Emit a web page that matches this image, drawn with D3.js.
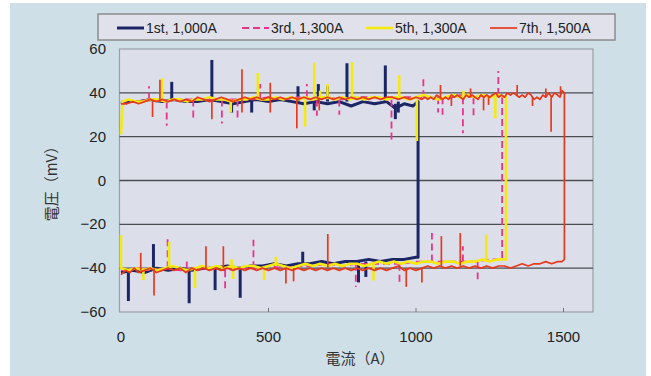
<!DOCTYPE html>
<html>
<head>
<meta charset="utf-8">
<script src="https://cdn.jsdelivr.net/npm/d3@7"></script>
<style>
  body { margin: 0; background: #fff; }
  svg { display: block; font-family: "Liberation Sans", Arial, sans-serif; }
</style>
</head>
<body>
<div id="chart"></div>
<script>
// x ticks / y ticks
const xTicks = [0, 500, 1000, 1500];
const yTicks = [-60, -40, -20, 0, 20, 40, 60];
const yGrid = [-40, -20, 0, 20, 40];

// series names
const names = ["1st, 1,000A", "3rd, 1,300A", "5th, 1,300A", "7th,  1,500A"];

// baseline traces [current A, voltage mV], path order: lower branch, jump, upper branch back
const navyTrace = [[0,-42],[40,-41],[80,-42],[120,-40],[160,-41],[200,-40],[240,-41],[280,-40],[320,-40],[360,-39],[400,-40],[440,-39],[480,-39],[520,-38],[560,-39],[600,-38],[640,-38],[680,-37],[720,-38],[760,-37],[800,-37],[840,-36],[880,-37],[920,-36],[960,-36],[1000,-35],[1007,-35],
  [1007,36],[990,34],[960,35],[930,33],[900,36],[860,35],[820,36],[780,34],[740,36],[700,35],[660,36],[620,35],[580,36],[540,37],[500,36],[460,37],[420,36],[380,35],[340,36],[300,37],[260,36],[220,36],[180,37],[140,36],[100,37],[60,36],[20,36],[0,35]];
const pinkTrace = [[0,-41],[50,-40],[100,-41],[150,-40],[200,-41],[250,-40],[300,-40],[350,-41],[400,-40],[450,-40],[500,-39],[550,-40],[600,-39],[650,-39],[700,-38],[750,-39],[800,-38],[850,-38],[900,-38],[950,-38],[1000,-37],[1050,-37],[1100,-37],[1150,-37],[1200,-37],[1250,-36],[1292,-36],
  [1292,38],[1250,39],[1200,38],[1150,39],[1100,37],[1050,38],[1000,38],[950,38],[900,37],[850,38],[800,38],[750,37],[700,38],[650,37],[600,38],[550,37],[500,38],[450,37],[400,37],[350,37],[300,37],[250,37],[200,37],[150,36],[100,37],[50,36],[0,36]];
const yellowTrace = [[0,-25],[0,-40],[25,-41],[50,-40],[75,-41],[100,-40],[125,-41],[150,-40],[175,-39],[200,-40],[225,-41],[250,-40],[275,-39],[300,-40],[325,-39],[350,-40],[375,-39],[400,-40],[425,-39],[450,-39],[475,-40],[500,-39],[525,-38],[550,-39],[575,-40],[600,-39],[625,-38],[650,-39],[675,-38],[700,-39],[725,-38],[750,-39],[775,-38],[800,-38],[825,-39],[850,-38],[875,-37],[900,-38],[925,-37],[950,-38],[975,-37],[1000,-38],[1025,-37],[1050,-37],[1075,-38],[1100,-37],[1125,-37],[1150,-38],[1175,-37],[1200,-37],[1225,-36],[1250,-37],[1275,-36],[1305,-36],
  [1305,38],[1280,39],[1250,38],[1225,39],[1200,38],[1175,39],[1150,38],[1125,39],[1100,38],[1075,37],[1050,38],[1025,39],[1000,38],[975,37],[950,38],[925,38],[900,37],[875,38],[850,38],[825,37],[800,38],[775,37],[750,38],[725,37],[700,38],[675,38],[650,37],[625,38],[600,37],[575,38],[550,37],[525,38],[500,37],[475,37],[450,38],[425,37],[400,37],[375,36],[350,37],[325,37],[300,38],[275,37],[250,37],[225,36],[200,37],[175,37],[150,36],[125,37],[100,37],[75,36],[50,36],[25,37],[5,36],[0,21]];
const redTrace = [[0,-43],[15,-41],[30,-42],[45,-40],[60,-42],[80,-41],[100,-40],[120,-42],[140,-41],[160,-40],[180,-41],[200,-40],[220,-42],[240,-40],[260,-41],[280,-40],[300,-41],[320,-40],[340,-41],[360,-40],[380,-41],[400,-40],[420,-41],[440,-40],[460,-41],[480,-40],[500,-41],[520,-40],[540,-41],[560,-40],[580,-41],[600,-40],[620,-41],[640,-40],[660,-41],[680,-40],[700,-41],[720,-40],[740,-41],[760,-40],[780,-41],[800,-40],[820,-41],[840,-40],[860,-41],[880,-40],[900,-41],[920,-40],[940,-39],[960,-41],[980,-40],[1000,-41],[1020,-40],[1040,-39],[1060,-40],[1080,-39],[1100,-40],[1120,-39],[1140,-40],[1160,-39],[1180,-40],[1200,-39],[1220,-40],[1240,-39],[1260,-40],[1280,-39],[1300,-39],[1320,-40],[1340,-39],[1360,-38],[1380,-39],[1400,-38],[1420,-38],[1440,-37],[1460,-38],[1480,-37],[1495,-37],[1503,-36],
  [1503,40],[1495,41],[1488,38],[1480,39],[1470,40],[1460,38],[1450,40],[1440,38],[1430,39],[1420,37],[1410,38],[1400,37],[1390,39],[1380,40],[1370,38],[1360,39],[1350,38],[1340,39],[1330,40],[1320,39],[1310,40],[1300,38],[1290,39],[1280,38],[1270,40],[1260,39],[1250,38],[1240,39],[1230,38],[1220,39],[1210,37],[1200,38],[1190,39],[1180,38],[1170,39],[1160,37],[1150,38],[1140,39],[1130,38],[1120,39],[1110,37],[1100,38],[1090,37],[1080,38],[1070,39],[1060,37],[1050,38],[1040,37],[1030,38],[1020,37],[1000,38],[980,37],[960,38],[940,37],[920,38],[900,38],[880,37],[860,38],[840,37],[820,38],[800,37],[780,38],[760,37],[740,38],[720,37],[700,38],[680,37],[660,38],[640,37],[620,38],[600,37],[580,38],[560,37],[540,38],[520,37],[500,38],[480,37],[460,38],[440,37],[420,38],[400,37],[380,36],[360,37],[340,38],[320,37],[300,36],[280,37],[260,38],[240,36],[220,37],[200,36],[180,37],[160,36],[140,37],[120,36],[100,37],[80,36],[60,35],[40,36],[20,35],[0,35]];

// spikes [current A, base mV, tip mV]
const navySpikes = [[172,37,45],[308,37,55],[375,36,31],[443,37,31],[600,36,43],[655,36,32],[669,36,44],[700,36,43],[766,36,53.5],[896,36,52.5],[930,35,28],[940,36,31],
  [25,-41,-55],[110,-41,-29],[231,-40,-56],[319,-40,-50],[404,-40,-53.5],[616,-38,-32.5],[805,-37,-46.5],[830,-37,-44]];
const pinkSpikes = [[95,37,43],[155,36,25],[245,37,28],[342,37,26],[395,37,27],[472,37,44],[630,38,44],[664,37,29.5],[740,37,30],[917,37,18],[1025,38,46.7],[1075,38,31],[1090,38,30],[1159,38,21.6],[1195,38,28],[1279,39,50],
  [158,-40,-25],[223,-40,-37],[353,-41,-50],[449,-40,-27],[796,-38,-48.6],[944,-38,-48],[1054,-37,-24],[1159,-37,-30],[1209,-37,-45]];
const yellowSpikes = [[139,37,46.7],[372,37,31],[464,37,49],[624,37,24.6],[655,37,53.8],[675,37,41],[700,37,44],[783,37,54],[943,37,48],[1003,37,18],[1161,38,41],[1269,38,28.4],
  [76,-40,-45.4],[163,-40,-28],[251,-40,-49],[375,-40,-36],[380,-40,-45],[485,-39,-45.4],[525,-39,-34.8],[856,-38,-45.6],[1238,-37,-24.7]];
const redSpikes = [[107,36,29],[132,36,46],[308,37,28],[410,37,50.8],[410,37,31],[506,37,44.6],[506,37,31],[596,37,23.8],[672,37,32],[1083,37,43.6],[1229,38,32],[1246,38,34.5],[1343,39,43.6],[1458,38,22.3],[1490,39,43],
  [1120,38,34],[1185,38,42],[1395,38,34],[1440,38,42],
  [67,-41,-33],[112,-40,-52.5],[288,-40,-30],[347,-40,-30],[559,-40,-47],[585,-40,-46],[701,-40,-24.4],[967,-40,-48.5],[1020,-40,-46.5],[1086,-39,-25.4],[1150,-39,-24]];

const W = 651, H = 376;
const svg = d3.select("#chart").append("svg").attr("width", W).attr("height", H);

svg.append("rect").attr("x", 10).attr("y", 3).attr("width", 636).attr("height", H - 3).attr("fill", "#cfdfe8");

const x = d3.scaleLinear().domain([0, 1600]).range([121, 593]);
const y = d3.scaleLinear().domain([-60, 60]).range([312, 49]);

// plot area
svg.append("rect")
  .attr("x", x(0) - 1.5).attr("y", y(60))
  .attr("width", x(1600) - x(0) + 1.5).attr("height", y(-60) - y(60))
  .attr("fill", "#dcdfea").attr("stroke", "#9a9ea6").attr("stroke-width", 1.2);

svg.selectAll(".grid").data(yGrid).enter().append("line")
  .attr("x1", x(0) - 1.5).attr("x2", x(1600))
  .attr("y1", d => y(d)).attr("y2", d => y(d))
  .attr("stroke", "#4a4d52").attr("stroke-width", 1.3);

// x ticks (inward)
svg.selectAll(".xt").data(xTicks.slice(1)).enter().append("line")
  .attr("x1", d => x(d)).attr("x2", d => x(d))
  .attr("y1", y(-60)).attr("y2", y(-60) - 4)
  .attr("stroke", "#777").attr("stroke-width", 1);

svg.selectAll(".xl").data(xTicks).enter().append("text")
  .attr("x", d => x(d)).attr("y", 342)
  .attr("text-anchor", "middle").attr("font-size", 15).attr("fill", "#222")
  .text(d => d);

svg.selectAll(".yl").data(yTicks).enter().append("text")
  .attr("x", 106).attr("y", d => y(d) + 5)
  .attr("text-anchor", "end").attr("font-size", 15).attr("fill", "#222")
  .text(d => d < 0 ? "\u2212" + Math.abs(d) : d);

svg.append("text")
  .attr("transform", "translate(57,180) rotate(-90)")
  .attr("text-anchor", "middle").attr("font-size", 15).attr("fill", "#333")
  .attr("font-family", "'Noto Sans CJK JP', sans-serif")
  .text("電圧（mV）");

svg.append("text")
  .attr("x", 360).attr("y", 364)
  .attr("text-anchor", "middle").attr("font-size", 15).attr("fill", "#333")
  .attr("font-family", "'Noto Sans CJK JP', sans-serif")
  .text("電流（A）");

// series
const series = [
  { trace: navyTrace, spikes: navySpikes, color: "#1c2566", width: 3, dash: null },
  { trace: pinkTrace, spikes: pinkSpikes, color: "#e8338a", width: 1.8, dash: "7,4" },
  { trace: yellowTrace, spikes: yellowSpikes, color: "#f4ea12", width: 2.6, dash: null },
  { trace: redTrace, spikes: redSpikes, color: "#e63a1e", width: 1.7, dash: null }
];

const line = d3.line().x(d => x(d[0])).y(d => y(d[1]));

series.forEach(s => {
  const g = svg.append("g");
  g.append("path").datum(s.trace)
    .attr("d", line).attr("fill", "none")
    .attr("stroke", s.color).attr("stroke-width", s.width)
    .attr("stroke-dasharray", s.dash).attr("stroke-linejoin", "round");
  g.selectAll("line").data(s.spikes).enter().append("line")
    .attr("x1", d => x(d[0])).attr("x2", d => x(d[0]))
    .attr("y1", d => y(d[1])).attr("y2", d => y(d[2]))
    .attr("stroke", s.color).attr("stroke-width", s.width)
    .attr("stroke-dasharray", s.dash);
});

// legend
const lg = svg.append("g");
lg.append("rect").attr("x", 98).attr("y", 14).attr("width", 517).attr("height", 26)
  .attr("fill", "#e0e1ea").attr("stroke", "#8c8c8c").attr("stroke-width", 1.5);
const legX = [117, 242, 366, 490];
series.forEach((s, i) => {
  lg.append("line").attr("x1", legX[i]).attr("x2", legX[i] + 27).attr("y1", 28).attr("y2", 28)
    .attr("stroke", s.color).attr("stroke-width", s.width).attr("stroke-dasharray", s.dash);
  lg.append("text").attr("x", legX[i] + 29).attr("y", 33)
    .attr("font-size", 14).attr("fill", "#222").text(names[i]);
});
</script>
</body>
</html>
